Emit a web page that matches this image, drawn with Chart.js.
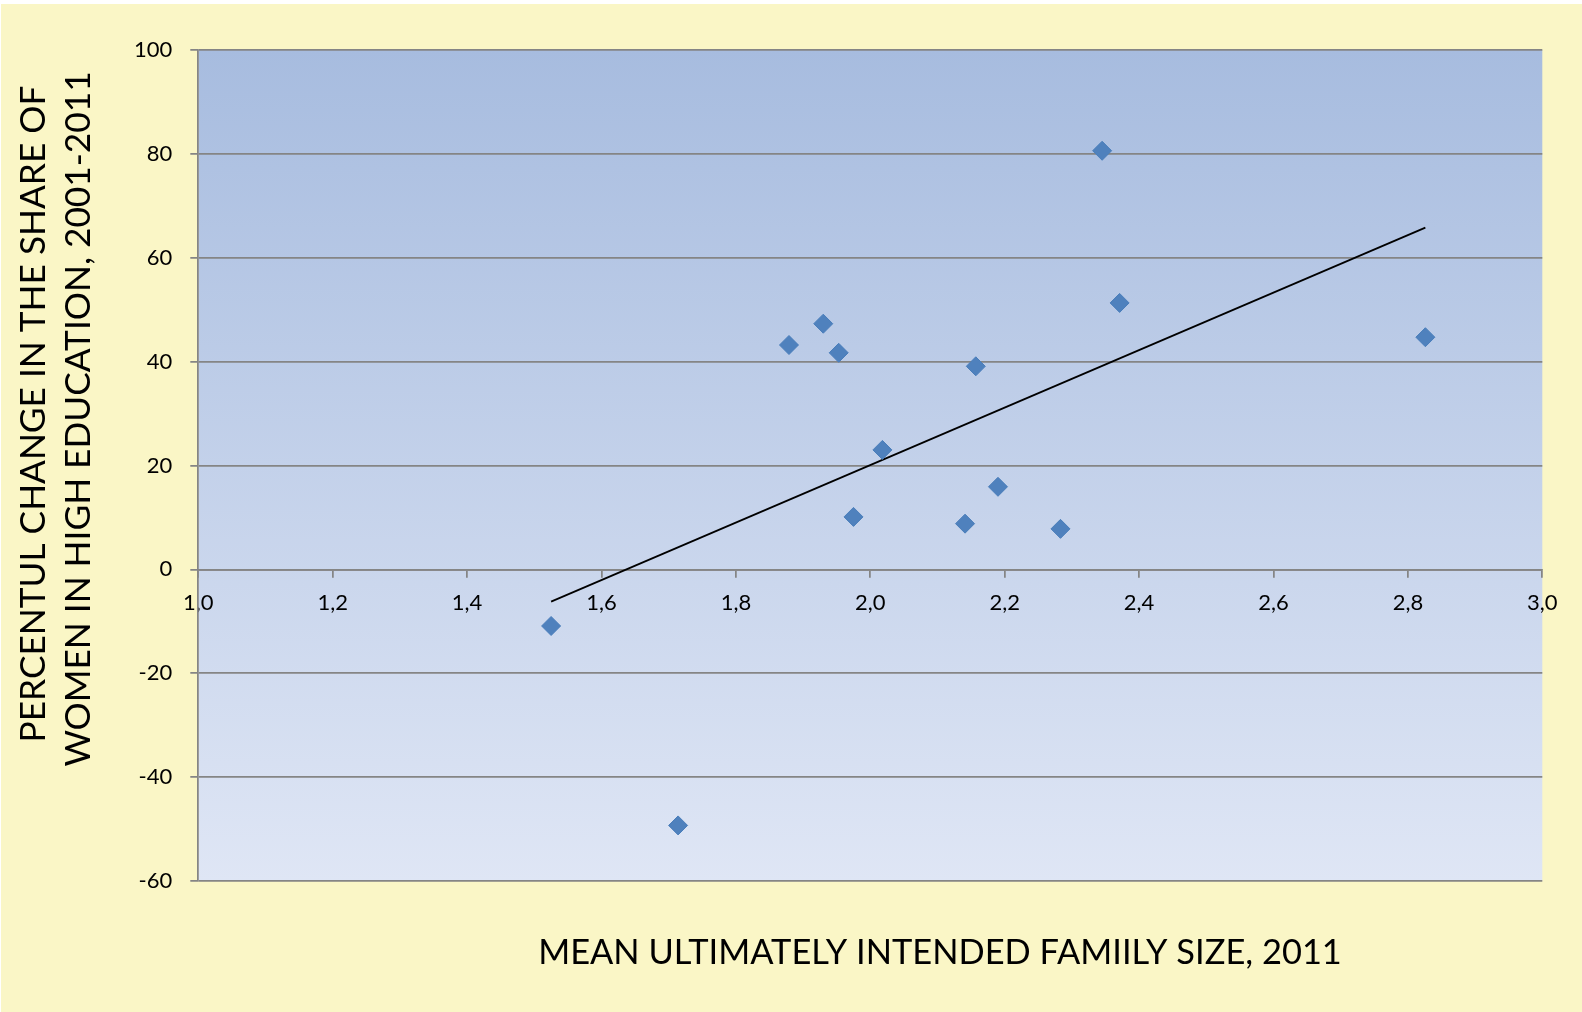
<!DOCTYPE html>
<html>
<head>
<meta charset="utf-8">
<script src="https://cdn.jsdelivr.net/npm/chart.js@4.4.0/dist/chart.umd.min.js"></script>
<style>
html,body{margin:0;padding:0;background:#ffffff;}
canvas{display:block;}
</style>
</head>
<body>
<canvas id="c" width="1582" height="1012"></canvas>
<script>
// ---- data ----
const xValues = [1.525, 1.714, 1.879, 1.930, 1.953, 1.975, 2.018, 2.141, 2.157, 2.190, 2.283, 2.345, 2.371, 2.826];
const yValues = [-10.9, -49.3, 43.2, 47.3, 41.7, 10.1, 23.0, 8.8, 39.1, 15.9, 7.8, 80.6, 51.3, 44.7];
const trendX = [1.525, 2.826];
const trendY = [-6.2, 65.8];
const xTicks = [1.0, 1.2, 1.4, 1.6, 1.8, 2.0, 2.2, 2.4, 2.6, 2.8, 3.0];
const xTickLabels = ['1,0', '1,2', '1,4', '1,6', '1,8', '2,0', '2,2', '2,4', '2,6', '2,8', '3,0'];
const yTicks = [-60, -40, -20, 0, 20, 40, 60, 80, 100];
const yTickLabels = ['-60', '-40', '-20', '0', '20', '40', '60', '80', '100'];
const xTitle = 'MEAN ULTIMATELY INTENDED FAMIILY SIZE, 2011';
const yTitleLines = ['PERCENTUL CHANGE IN THE SHARE OF', 'WOMEN IN HIGH EDUCATION, 2001-2011'];

const GRID = '#858585';
const TITLE_FONT = 'Lato, "Open Sans", sans-serif';

const bgPlugin = {
  id: 'bg',
  beforeDraw(chart) {
    const ctx = chart.ctx, a = chart.chartArea;
    ctx.save();
    ctx.fillStyle = '#ffffff';
    ctx.fillRect(0, 0, chart.width, chart.height);
    ctx.fillStyle = '#FAF6C6';
    ctx.fillRect(1, 4, chart.width - 1, chart.height - 4);
    const g = ctx.createLinearGradient(0, a.top, 0, a.bottom);
    g.addColorStop(0, '#A7BCDF');
    g.addColorStop(1, '#DFE6F5');
    ctx.fillStyle = g;
    ctx.fillRect(a.left, a.top, a.right - a.left, a.bottom - a.top);
    ctx.restore();
  }
};

function fitSize(ctx, text, target) {
  ctx.font = '100px ' + TITLE_FONT;
  return 100 * target / ctx.measureText(text).width;
}

const titlePlugin = {
  id: 'titles',
  afterDraw(chart) {
    const ctx = chart.ctx;
    ctx.save();
    ctx.fillStyle = '#000000';
    ctx.textAlign = 'center';
    ctx.textBaseline = 'alphabetic';
    // x title
    const sx = fitSize(ctx, xTitle, 804);
    ctx.font = sx + 'px ' + TITLE_FONT;
    ctx.fillText(xTitle, 940, 964);
    // y title (two lines, rotated)
    const s1 = fitSize(ctx, yTitleLines[0], 666);
    const s2 = fitSize(ctx, yTitleLines[1], 686);
    const sy = (s1 + s2) / 2;
    ctx.font = sy + 'px ' + TITLE_FONT;
    const pos = [[45, 414], [90, 419]];
    yTitleLines.forEach((t, i) => {
      ctx.save();
      ctx.translate(pos[i][0], pos[i][1]);
      ctx.rotate(-Math.PI / 2);
      ctx.fillText(t, 0, 0);
      ctx.restore();
    });
    ctx.restore();
  }
};

function makeChart() {
  new Chart(document.getElementById('c'), {
    type: 'scatter',
    data: {
      datasets: [
        {
          label: 'points',
          data: xValues.map((x, i) => ({ x: x, y: yValues[i] })),
          pointStyle: 'rectRot',
          pointRadius: 9.5,
          pointBackgroundColor: '#4F81BD',
          pointBorderColor: '#4A7EBB',
          pointBorderWidth: 1,
          showLine: false,
          order: 1
        },
        {
          type: 'line',
          label: 'trend',
          data: trendX.map((x, i) => ({ x: x, y: trendY[i] })),
          borderColor: '#000000',
          borderWidth: 1.75,
          pointRadius: 0,
          fill: false,
          showLine: true,
          order: 2
        }
      ]
    },
    options: {
      responsive: false,
      devicePixelRatio: 1,
      animation: false,
      events: [],
      layout: { padding: { left: 0, top: 50, right: 39.7, bottom: 131 } },
      plugins: { legend: { display: false }, tooltip: { enabled: false }, title: { display: false } },
      scales: {
        x: {
          type: 'linear',
          position: { y: 0 },
          min: 1, max: 3,
          afterBuildTicks: (s) => { s.ticks = xTicks.map(v => ({ value: v })); },
          ticks: {
            callback: (v, i) => xTickLabels[i],
            font: { family: 'Lato, sans-serif', size: 22 },
            color: '#000000',
            padding: 13,
            maxRotation: 0,
            autoSkip: false
          },
          grid: { drawOnChartArea: false, drawTicks: true, tickLength: 7, color: GRID, lineWidth: 1.75 },
          border: { display: true, color: GRID, width: 1.75 }
        },
        y: {
          type: 'linear',
          position: 'left',
          min: -60, max: 100,
          afterBuildTicks: (s) => { s.ticks = yTicks.map(v => ({ value: v })); },
          afterFit: (s) => { s.width = 198.3; },
          ticks: {
            callback: (v, i) => yTickLabels[i],
            font: { family: 'Lato, sans-serif', size: 22 },
            color: '#000000',
            padding: 18,
            autoSkip: false
          },
          grid: { drawOnChartArea: true, drawTicks: true, tickLength: 8, color: GRID, lineWidth: 1.75 },
          border: { display: true, color: GRID, width: 1.75 }
        }
      }
    },
    plugins: [bgPlugin, titlePlugin]
  });
}

const fontLoads = document.fonts ? Promise.all([
  document.fonts.load('22px Lato'), document.fonts.load('36px Lato')
]).catch(() => {}) : Promise.resolve();
fontLoads.then(makeChart, makeChart);
</script>
</body>
</html>
